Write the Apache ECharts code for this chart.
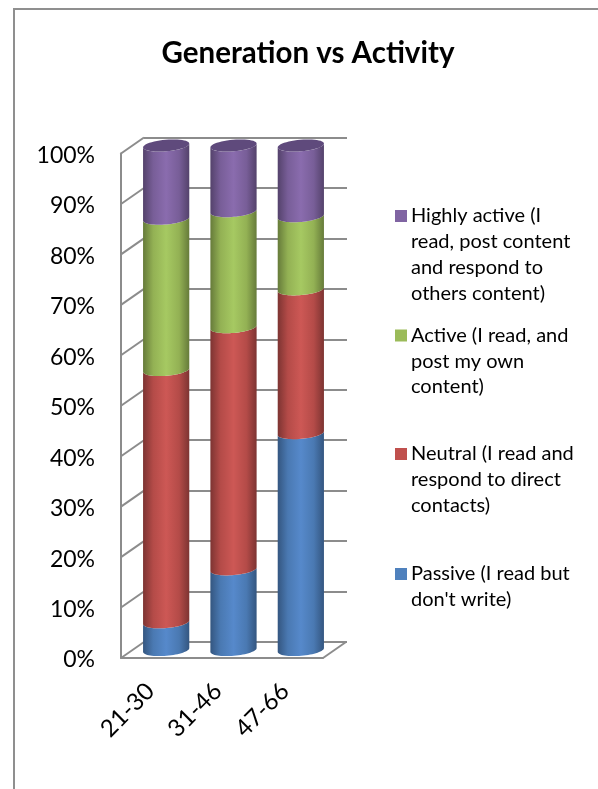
<!DOCTYPE html>
<html>
<head>
<meta charset="utf-8">
<style>html,body{margin:0;padding:0;background:#fff}#chart{width:598px;height:789px}</style>
<script src="https://cdn.jsdelivr.net/npm/echarts@6/dist/echarts.min.js"></script>
</head>
<body>
<div id="chart"></div>
<script>
// Share of respondents per activity level, by age band
const generations = ['21-30', '31-46', '47-66'];
const passive = [5.5, 16, 43];
const neutral = [50, 48, 28.5];
const active = [30, 23, 14.5];
const highlyActive = [14.5, 13, 14];
const percentTicks = [0, 10, 20, 30, 40, 50, 60, 70, 80, 90, 100];

const legendPassive = "Passive (I read but\ndon't write)";
const legendNeutral = 'Neutral (I read and\nrespond to direct\ncontacts)';
const legendActive = 'Active (I read, and\npost my own\ncontent)';
const legendHigh = 'Highly active (I\nread, post content\nand respond to\nothers content)';

const FONT = 'Lato';
const GRID_LINE = '#8c8c8c';
const DEPTH_X = 23, DEPTH_Y = -16;   // front-to-back shift of the 3D box
const FRONT = { left: 121, top: 153.5, width: 202, height: 504.5 };

// edge, shoulder and centre tones of each cylinder
const seriesDefs = [
  { name: legendPassive, values: passive, color: '#4F81BD', tones: ['#345680', '#4a79b2', '#5689cb'] },
  { name: legendNeutral, values: neutral, color: '#C0504D', tones: ['#7d3432', '#b44b48', '#cd5855'] },
  { name: legendActive, values: active, color: '#9BBB59', tones: ['#667b3a', '#93b154', '#a6c962'] },
  { name: legendHigh, values: highlyActive, color: '#8064A2', tones: ['#54426b', '#785e98', '#8a6cae'] }
];
const TOP_CAP = '#5f4a7c';

const RX = 23.2, RY = 5.8, TILT = 5 * Math.PI / 180;

function ellipsePoint(cx, cy, t) {
  const ex = RX * Math.cos(t), ey = RY * Math.sin(t);
  return [cx + ex * Math.cos(TILT) + ey * Math.sin(TILT),
          cy - ex * Math.sin(TILT) + ey * Math.cos(TILT)];
}

// Cylinder segment: the front half of the lower ellipse joined to the front half of the upper one
function segmentPoints(cx, yLow, yHigh) {
  const pts = [];
  for (let i = 0; i <= 32; i++) pts.push(ellipsePoint(cx, yHigh, Math.PI - Math.PI * i / 32));
  for (let i = 0; i <= 32; i++) pts.push(ellipsePoint(cx, yLow, Math.PI * i / 32));
  return pts;
}

function capPoints(cx, cy) {
  const pts = [];
  for (let i = 0; i < 48; i++) pts.push(ellipsePoint(cx, cy, 2 * Math.PI * i / 48));
  return pts;
}

function cylinderRenderer(def, isTop) {
  return function (params, api) {
    const cat = api.value(0);
    const low = api.coord([cat, api.value(1)]);
    const high = api.coord([cat, api.value(2)]);
    const t = def.tones;
    const children = [{
      type: 'polygon',
      shape: { points: segmentPoints(low[0], low[1], high[1]) },
      style: {
        fill: new echarts.graphic.LinearGradient(0, 0, 1, 0, [
          { offset: 0, color: t[0] }, { offset: 0.22, color: t[1] },
          { offset: 0.5, color: t[2] }, { offset: 0.78, color: t[1] }, { offset: 1, color: t[0] }
        ])
      }
    }];
    if (isTop) {
      children.push({
        type: 'polygon',
        shape: { points: capPoints(high[0], high[1]) },
        style: { fill: TOP_CAP }
      });
    }
    return { type: 'group', children };
  };
}

let running = generations.map(() => 0);
const cylinderSeries = seriesDefs.map((def, idx) => {
  const data = def.values.map((v, i) => {
    const item = [i, running[i], running[i] + v];
    running[i] += v;
    return item;
  });
  return {
    type: 'custom',
    name: def.name,
    xAxisIndex: 2,
    yAxisIndex: 2,
    z: 5,
    silent: true,
    itemStyle: { color: def.color },
    encode: { x: 0, y: [1, 2] },
    renderItem: cylinderRenderer(def, idx === seriesDefs.length - 1),
    data
  };
});

// Slanted lines along the side wall and the right edge of the floor
const wallSeries = {
  type: 'custom',
  xAxisIndex: 0,
  yAxisIndex: 0,
  z: 2,
  silent: true,
  data: percentTicks.map(v => [v]),
  renderItem: function (params, api) {
    const v = api.value(0);
    const y = api.coord([0, v])[1];
    const lineStyle = { stroke: GRID_LINE, lineWidth: 2 };
    const x0 = params.coordSys.x;
    const children = [{
      type: 'line',
      shape: { x1: x0, y1: y, x2: x0 + DEPTH_X, y2: y + DEPTH_Y },
      style: lineStyle
    }];
    if (v === 0) {
      const x1 = x0 + params.coordSys.width;
      children.push({
        type: 'line',
        shape: { x1: x1, y1: y, x2: x1 + DEPTH_X, y2: y + DEPTH_Y },
        style: lineStyle
      });
    }
    return { type: 'group', children };
  }
};

const hiddenCategory = gridIndex => ({
  type: 'category', gridIndex, data: generations,
  axisLine: { show: false }, axisTick: { show: false }, axisLabel: { show: false }, splitLine: { show: false }
});
const hiddenValue = (gridIndex, showSplit) => ({
  type: 'value', gridIndex, min: 0, max: 100, interval: 10,
  axisLine: { show: false }, axisTick: { show: false }, axisLabel: { show: false },
  splitLine: { show: showSplit, lineStyle: { color: GRID_LINE, width: 2 } }
});

// One legend per level so the gaps can differ. Blank lines above the text
// keep the marker level with its first line.
const LEGEND_LINE = 25.7;
function legendFor(name, markerY) {
  const lines = name.split('\n').length;
  return {
    left: 395,
    top: markerY - (lines - 0.5) * LEGEND_LINE,
    padding: 0,
    orient: 'vertical',
    itemWidth: 12,
    itemHeight: 12,
    itemGap: 0,
    icon: 'rect',
    selectedMode: false,
    data: [name],
    formatter: n => '\n'.repeat(lines - 1) + n,
    textStyle: {
      fontFamily: FONT, fontSize: 20, color: '#000', lineHeight: LEGEND_LINE,
      padding: [0, 0, 0, -1]
    }
  };
}

const chart = echarts.init(document.getElementById('chart'), null, { renderer: 'canvas' });
chart.setOption({
  animation: false,
  backgroundColor: '#fff',
  textStyle: { fontFamily: FONT },
  title: {
    text: 'Generation vs Activity',
    left: 303, top: 33, textAlign: 'center',
    textStyle: { fontFamily: FONT, fontSize: 29.5, fontWeight: 'bold', color: '#000' }
  },
  legend: [
    legendFor(legendHigh, 216),
    legendFor(legendActive, 335.5),
    legendFor(legendNeutral, 454),
    legendFor(legendPassive, 574)
  ],
  grid: [
    FRONT,
    { left: FRONT.left + DEPTH_X, top: FRONT.top + DEPTH_Y, width: FRONT.width + 1, height: FRONT.height },
    { left: FRONT.left + DEPTH_X / 2, top: FRONT.top + DEPTH_Y / 2, width: FRONT.width, height: FRONT.height }
  ],
  xAxis: [
    {
      type: 'category', gridIndex: 0, data: generations,
      axisLine: { show: true, lineStyle: { color: GRID_LINE, width: 2 } },
      axisTick: { show: false },
      axisLabel: {
        rotate: 45, fontFamily: FONT, fontSize: 24, color: '#000', margin: 25, interval: 0,
        padding: [0, 6, 0, 0]
      }
    },
    hiddenCategory(1),
    hiddenCategory(2)
  ],
  yAxis: [
    {
      type: 'value', gridIndex: 0, min: 0, max: 100, interval: 10,
      axisLine: { show: true, lineStyle: { color: GRID_LINE, width: 2 } },
      axisTick: { show: false },
      splitLine: { show: false },
      axisLabel: {
        formatter: '{pct|{value}%}',
        color: '#000', margin: 26,
        rich: { pct: { fontFamily: FONT, fontSize: 23, color: '#000', padding: [4, 0, 0, 0] } }
      }
    },
    hiddenValue(1, true),
    hiddenValue(2, false)
  ],
  graphic: [{
    type: 'polyline',
    silent: true,
    shape: { points: [[14, 800], [14, 9], [610, 9]] },
    style: { stroke: '#8f8f8f', lineWidth: 2, fill: 'none' }
  }],
  series: [wallSeries].concat(cylinderSeries)
});
</script>
</body>
</html>
